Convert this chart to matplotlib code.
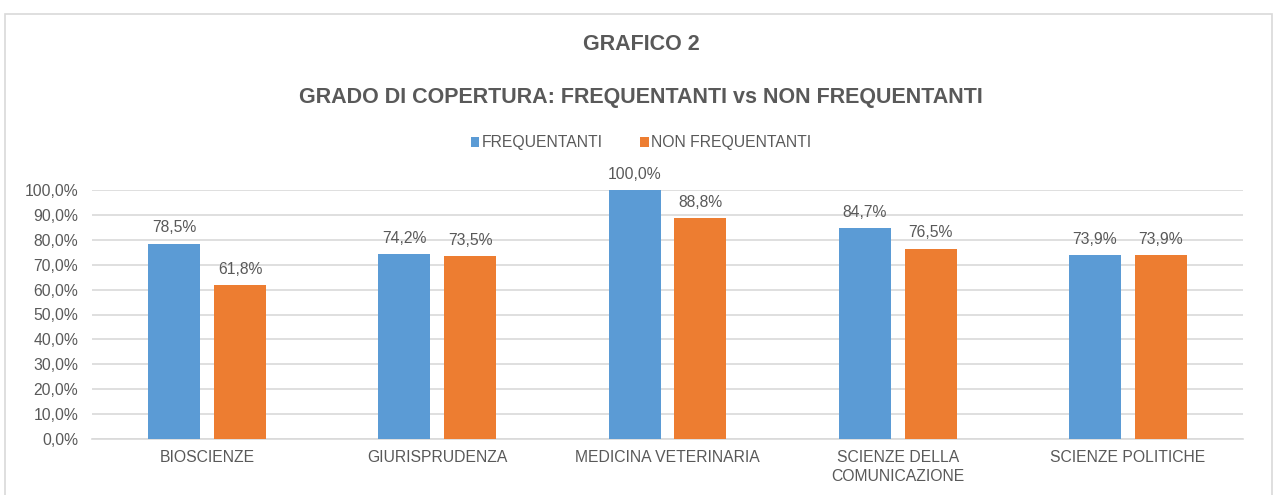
import matplotlib
matplotlib.use("Agg")
import matplotlib.pyplot as plt
import numpy as np
from matplotlib.patches import Rectangle

categories = ["BIOSCIENZE", "GIURISPRUDENZA", "MEDICINA VETERINARIA",
              "SCIENZE DELLA\nCOMUNICAZIONE", "SCIENZE POLITICHE"]
frequentanti = [78.5, 74.2, 100.0, 84.7, 73.9]
non_frequentanti = [61.8, 73.5, 88.8, 76.5, 73.9]
series_names = ["FREQUENTANTI", "NON FREQUENTANTI"]
yticks = [0, 10, 20, 30, 40, 50, 60, 70, 80, 90, 100]

BLUE = "#5B9BD5"
ORANGE = "#ED7D31"
TEXT = "#595959"
GRID = "#D9D9D9"
FS = 11.3

plt.rcParams['font.family'] = ['Liberation Sans', 'DejaVu Sans']

W, H = 1282, 495
fig = plt.figure(figsize=(W / 100, H / 100), dpi=100)

def fx(px):
    return px / W

def fy(py):
    return 1 - py / H

# outer border
fig.patches.append(Rectangle((fx(5), fy(500)), fx(1272) - fx(5), fy(14) - fy(500),
                             transform=fig.transFigure, fill=False,
                             edgecolor=GRID, linewidth=1.2))

ax = fig.add_axes([fx(92), fy(439), fx(1243) - fx(92), fy(190) - fy(439)])
x = np.arange(len(categories))
bw = 0.226
off = 0.143
b1 = ax.bar(x - off, frequentanti, bw, color=BLUE, label=series_names[0], zorder=3)
b2 = ax.bar(x + off, non_frequentanti, bw, color=ORANGE, label=series_names[1], zorder=3)

def fmt(v):
    return f"{v:.1f}".replace(".", ",") + "%"

for bars, vals in ((b1, frequentanti), (b2, non_frequentanti)):
    for rect, v in zip(bars, vals):
        ax.annotate(fmt(v), (rect.get_x() + rect.get_width() / 2, v),
                    xytext=(0, 6), textcoords="offset points",
                    ha="center", va="bottom", fontsize=FS, color=TEXT)

ax.set_xlim(-0.5, len(categories) - 0.5)
ax.set_ylim(0, 100)
ax.set_yticks(yticks)
ax.set_yticklabels([fmt(v) for v in yticks])
ax.set_xticks(x)
ax.set_xticklabels(categories)
ax.tick_params(axis="both", length=0, labelsize=FS, colors=TEXT)
ax.tick_params(axis="x", pad=8)
ax.tick_params(axis="y", pad=10)
for lab in ax.get_xticklabels():
    lab.set_linespacing(1.35)
ax.yaxis.grid(True, color=GRID, linewidth=1.2, zorder=0)
ax.set_axisbelow(True)
for s in ["top", "right", "left"]:
    ax.spines[s].set_visible(False)
ax.spines["bottom"].set_color(GRID)
ax.spines["bottom"].set_linewidth(1.2)
ax.set_facecolor("none")

fig.text(fx(641), fy(45), "GRAFICO 2", ha="center", va="center",
         fontsize=15.5, fontweight="bold", color=TEXT)
fig.text(fx(641), fy(97), "GRADO DI COPERTURA: FREQUENTANTI vs NON FREQUENTANTI",
         ha="center", va="center", fontsize=15.5, fontweight="bold", color=TEXT)

fig.legend(handles=[b1, b2], labels=series_names, loc="center",
           bbox_to_anchor=(fx(641), fy(143)), ncol=2, frameon=False,
           fontsize=FS, labelcolor=TEXT, handlelength=0.55, handleheight=0.55,
           handletextpad=0.15, columnspacing=2.4)

fig.savefig("out.png", dpi=100, facecolor="white")
